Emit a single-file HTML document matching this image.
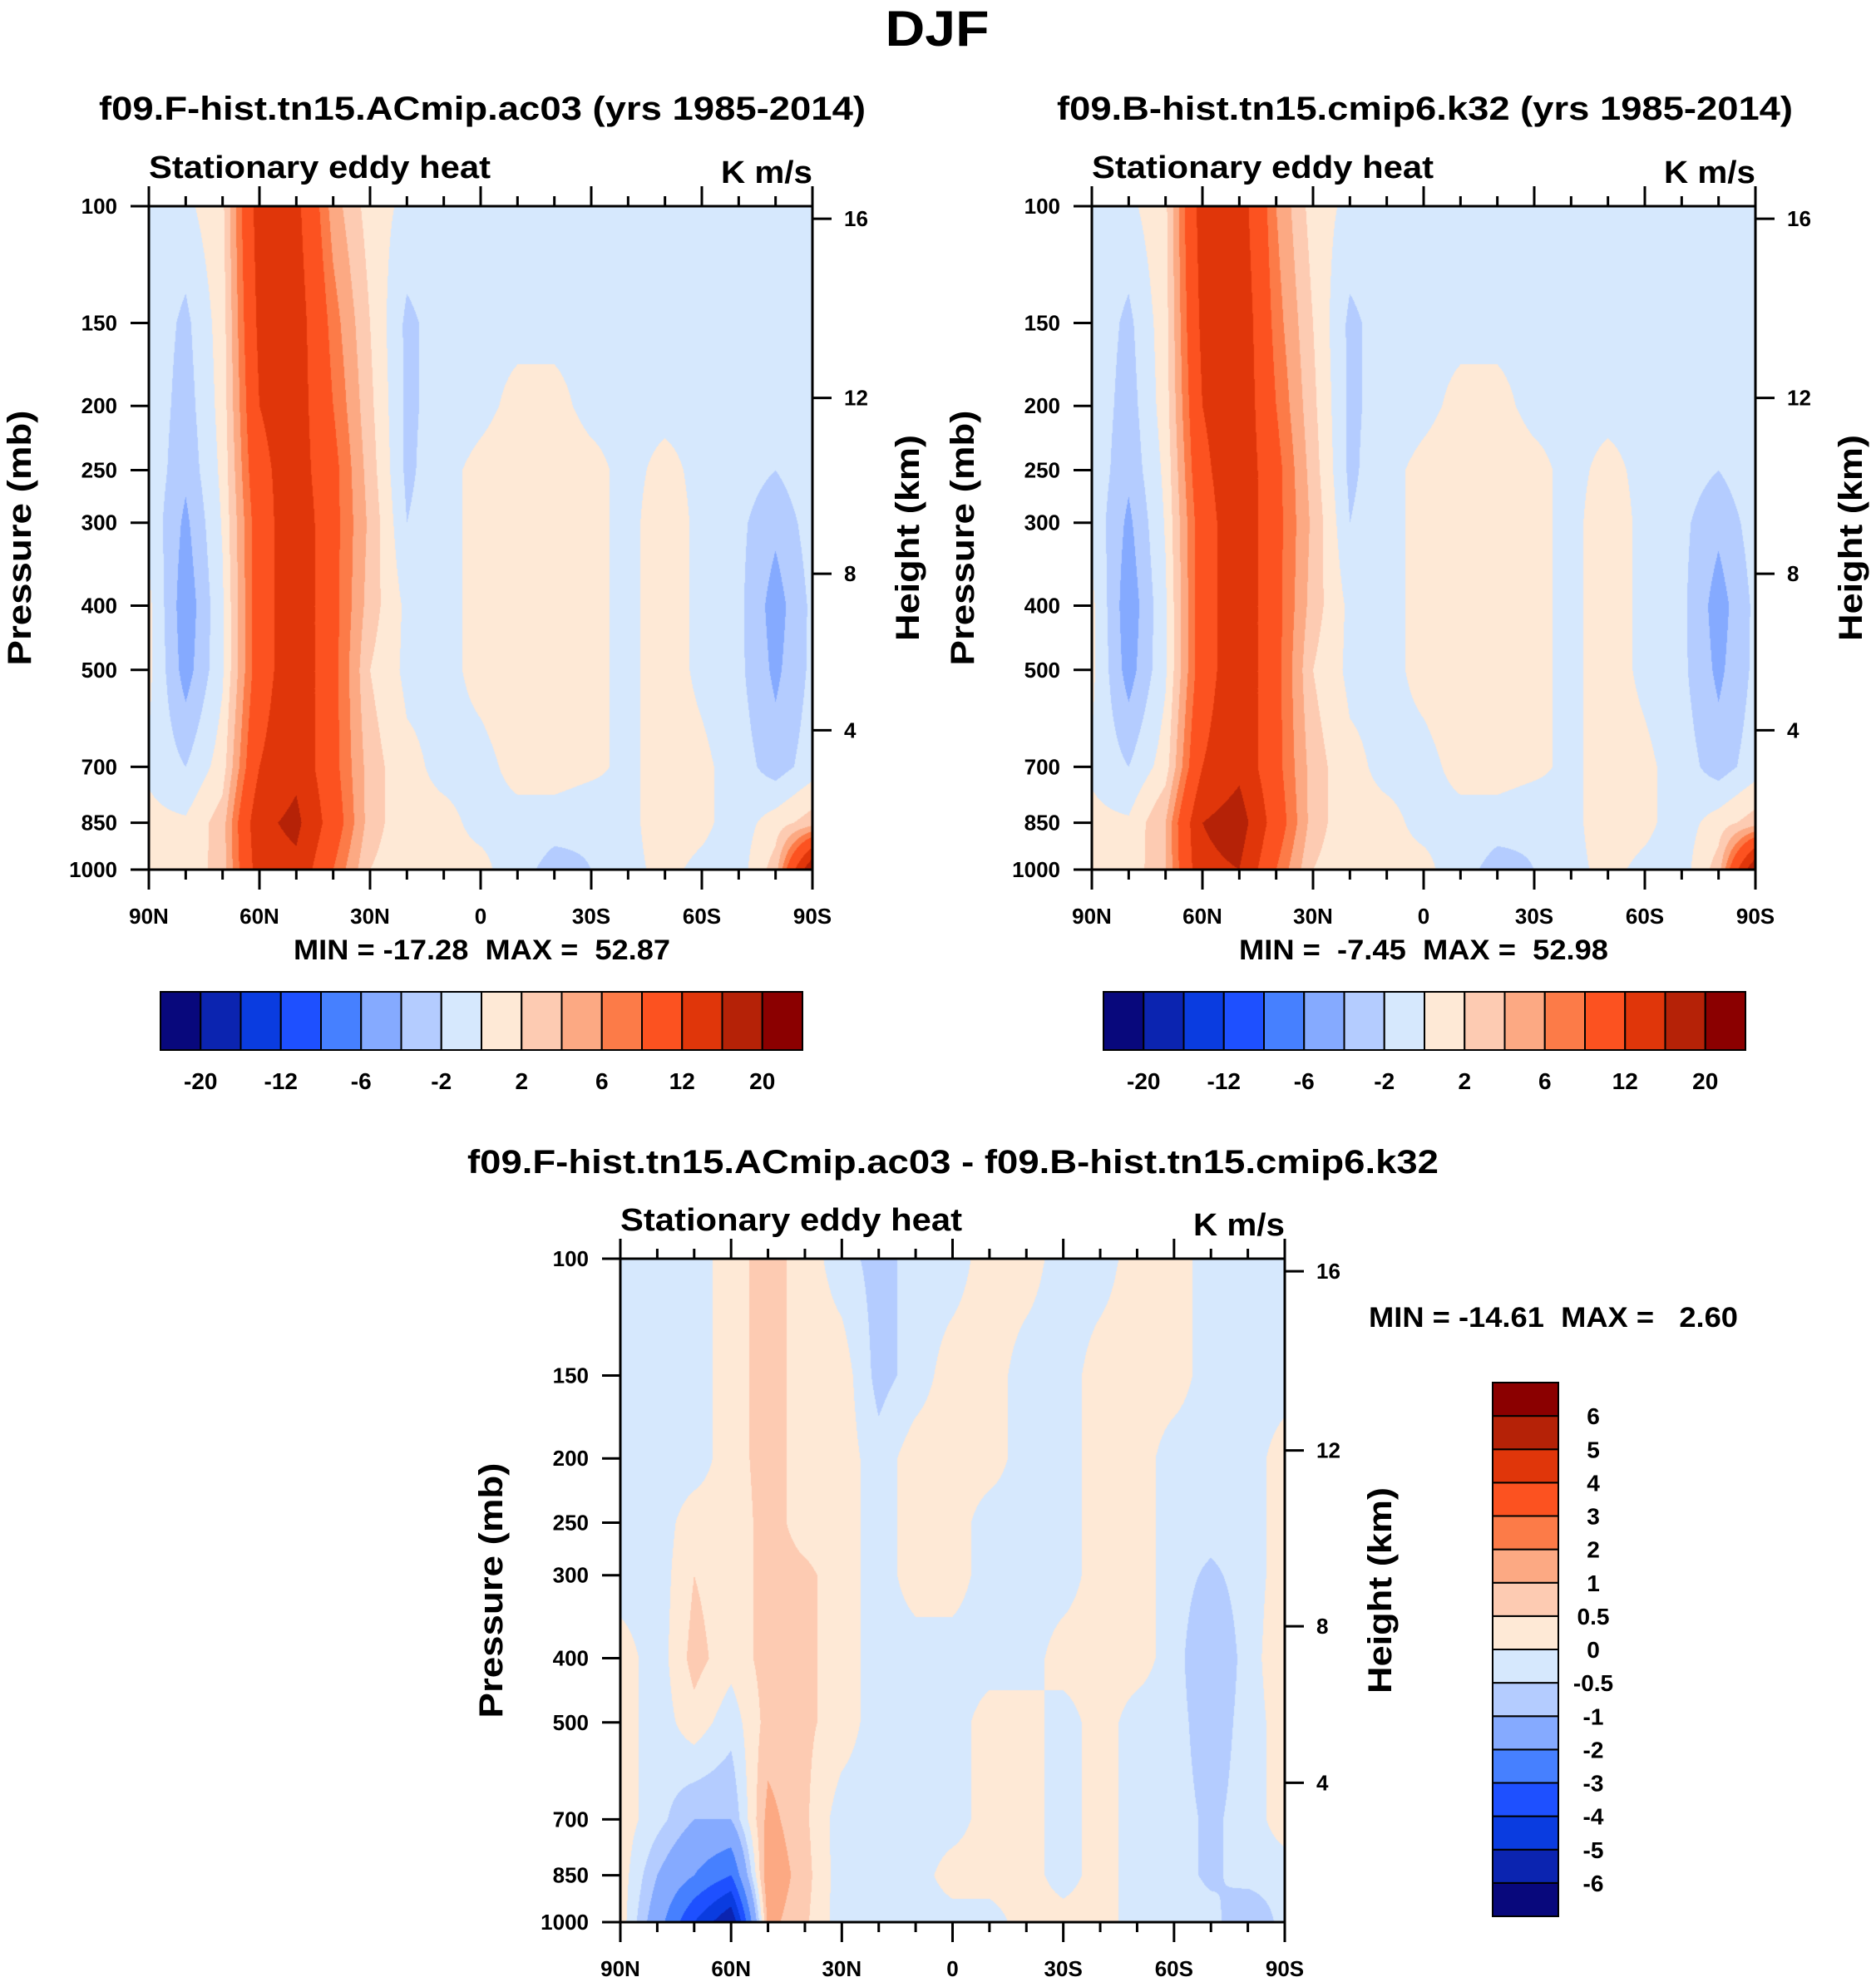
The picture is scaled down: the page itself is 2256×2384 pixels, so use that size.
<!DOCTYPE html>
<html><head><meta charset="utf-8">
<style>
html,body{margin:0;padding:0;background:#fff;}
body{width:2256px;height:2384px;position:relative;overflow:hidden;font-family:"Liberation Sans",sans-serif;}
canvas{position:absolute;}
svg{position:absolute;left:0;top:0;}
</style></head>
<body>
<canvas id="c1" width="798" height="798" style="left:179px;top:248px"></canvas>
<canvas id="c2" width="798" height="798" style="left:1313px;top:248px"></canvas>
<canvas id="c3" width="799" height="798" style="left:746px;top:1514px"></canvas>
<svg id="svg" width="2256" height="2384"></svg>
<script>
// ---- data ----
const lats = [90,80,70,60,50,40,30,20,10,0,-10,-20,-30,-40,-50,-60,-70,-80,-90];
const levels = [100,150,200,250,300,400,500,700,850,1000];
const ctrlField = [
 [-0.5,-0.5,1.5,14,13,5,1,-0.5,-0.5,-0.5,-0.5,-0.5,-0.5,-0.5,-0.5,-0.5,-0.5,-0.5,-0.5],
 [-0.5,-2.5,1,13,14,7,2,-2.5,-1,-0.5,-0.5,-0.5,-0.5,-0.5,-0.5,-0.5,-0.5,-0.5,-0.5],
 [-0.5,-3,0.8,12,14,8,2.5,-2.5,-1,-0.5,0.5,0.5,-0.5,-0.5,-0.5,-0.5,-0.5,-0.5,-0.5],
 [-0.5,-3.5,0.5,11,14,9,3,-2.5,-0.5,0.5,1,1,0.5,-0.5,0.5,-0.5,-1,-2,-0.5],
 [-0.5,-4.5,0.2,10,15,9,3.5,-2,-0.5,0.5,1,1,0.5,-0.5,1,-0.5,-1.5,-3.5,-1],
 [0.5,-5.5,-0.3,10,15,9,3,-0.5,-0.5,0.5,1,1,0.5,-0.5,1,-0.5,-1.5,-5,-1.5],
 [0.5,-5,-0.3,10,15,9,2,-0.5,-0.5,0.5,1,1,0.5,-0.5,1,-0.5,-1.5,-4.5,-1.5],
 [-0.3,-2,1,12,15,9,3,0.5,-0.5,-0.5,0.5,1,0.5,-0.5,1,0.5,-1,-3,-1],
 [0.5,0.3,3,15,17,10,3,0.5,0.5,-0.5,-0.5,-1,-1.5,-0.5,1,0.5,-1,1,3],
 [0.5,0.5,3,14,15,8,2,0.5,0.5,0.5,-1,-3,-2,-0.5,0.5,-0.5,-1,3,20]
];
const expField = [
 [-0.5,-0.5,1.5,14,14,6,1,-0.5,-0.5,-0.5,-0.5,-0.5,-0.5,-0.5,-0.5,-0.5,-0.5,-0.5,-0.5],
 [-0.5,-2.5,1.2,13,15,7,2,-2.5,-1,-0.5,-0.5,-0.5,-0.5,-0.5,-0.5,-0.5,-0.5,-0.5,-0.5],
 [-0.5,-3,1,12,15,8,2.5,-2.5,-1,-0.5,0.5,0.5,-0.5,-0.5,-0.5,-0.5,-0.5,-0.5,-0.5],
 [-0.5,-3.5,0.5,11,15,9,3,-2.5,-0.5,0.5,1,1,0.5,-0.5,0.5,-0.5,-1,-2,-0.5],
 [-0.5,-4.5,0.2,10,15,9,3.5,-2,-0.5,0.5,1,1,0.5,-0.5,1,-0.5,-1.5,-3.5,-1],
 [0.5,-5.5,-0.3,10,15,9,3,-0.5,-0.5,0.5,1,1,0.5,-0.5,1,-0.5,-1.5,-5,-1.5],
 [0.5,-5,-0.3,10,15,9,2,-0.5,-0.5,0.5,1,1,0.5,-0.5,1,-0.5,-1.5,-4.5,-1.5],
 [-0.3,-2,1,12,15,9,3,0.5,-0.5,-0.5,0.5,1,0.5,-0.5,1,0.5,-1,-3,-1],
 [0.5,0.3,4,16,18,10,3,0.5,0.5,-0.5,-0.5,-1,-1.5,-0.5,1,0.5,-1,1,3],
 [0.5,0.5,4,15,16,8,2,0.5,0.5,0.5,-1,-3,-2,-0.5,0.5,-0.5,-1,3,20]
];
const diffField = [
 [-0.3,-0.3,-0.3,0.3,0.7,0.3,-0.3,-0.7,-0.3,-0.3,0.3,0.3,-0.3,-0.3,0.3,0.3,-0.3,-0.3,-0.3],
 [-0.3,-0.3,-0.3,0.3,0.7,0.3,0.3,-0.7,-0.3,0.3,0.3,-0.3,-0.3,0.3,0.3,0.3,-0.3,-0.3,-0.3],
 [-0.3,-0.3,-0.3,0.3,0.7,0.3,0.3,-0.3,0.3,0.3,0.3,-0.3,-0.3,0.3,0.3,-0.3,-0.3,-0.3,0.3],
 [-0.3,-0.3,0.3,0.2,0.7,0.3,0.3,-0.3,0.3,0.3,-0.3,-0.3,-0.3,0.3,0.3,-0.3,-0.3,-0.3,0.3],
 [-0.3,-0.3,0.5,0.2,0.7,0.6,0.3,-0.3,0.3,0.3,-0.3,-0.3,-0.3,0.3,0.3,-0.3,-0.6,-0.3,0.3],
 [0.3,-0.3,0.7,0.2,0.7,0.6,0.3,-0.3,-0.3,-0.3,-0.3,-0.3,0.3,0.3,0.3,-0.3,-1,-0.3,0.5],
 [0.3,-0.3,0.3,-0.3,0.7,0.6,0.3,-0.3,-0.3,-0.3,0.3,0.3,-0.3,0.3,-0.3,-0.3,-0.8,-0.3,0.3],
 [0.3,-0.3,-1,-1,1.2,0.6,-0.3,-0.3,-0.3,-0.3,0.3,0.3,-0.3,0.3,-0.3,-0.3,-0.6,-0.3,0.3],
 [0.3,-1,-2,-3,1.5,0.7,-0.3,-0.3,-0.3,0.3,0.3,0.3,-0.3,0.3,-0.3,-0.3,-0.6,-0.3,-0.3],
 [0.3,-1.5,-4,-6,1.2,0.6,-0.3,-0.3,-0.3,-0.3,-0.3,0.3,0.3,0.3,-0.3,-0.3,-0.3,-1,-0.3]
];
const mainBounds = [-20,-16,-12,-8,-6,-4,-2,0,2,4,6,8,12,16,20];
const mainLabels = ['-20','-12','-6','-2','2','6','12','20'];
const diffBounds = [-6,-5,-4,-3,-2,-1,-0.5,0,0.5,1,2,3,4,5,6];
const diffLabels = ['-6','-5','-4','-3','-2','-1','-0.5','0','0.5','1','2','3','4','5','6'];
const pTicks = [100,150,200,250,300,400,500,700,850,1000];
const hTicks = [16,12,8,4];
const hFrac = [0.019,0.289,0.554,0.79];
const xLabels = ['90N','60N','30N','0','30S','60S','90S'];
const colors = ['#08087c','#0b24b0','#0a3ce0','#1e50ff','#4680ff','#85aaff','#b4ccff','#d6e8fd',
 '#fee9d6','#fdcbb2','#fca983','#fc7b48','#fc5220','#e0360a','#b52207','#8b0000'];

function hex(c){return [parseInt(c.substr(1,2),16),parseInt(c.substr(3,2),16),parseInt(c.substr(5,2),16)];}
const rgb = colors.map(hex);
function level(v,b){let i=0;while(i<b.length&&v>=b[i])i++;return i;}

function drawField(id,field,bounds){
  const cv=document.getElementById(id),ctx=cv.getContext('2d');
  const W=cv.width,H=cv.height,img=ctx.createImageData(W,H),d=img.data;
  const lg=levels.map(p=>Math.log10(p/100));
  for(let y=0;y<H;y++){
    const f=(y+0.5)/H;let r=0;while(r<lg.length-2&&f>lg[r+1])r++;
    const ty=Math.min(1,Math.max(0,(f-lg[r])/(lg[r+1]-lg[r])));
    for(let x=0;x<W;x++){
      const gx=(x+0.5)/W*(lats.length-1);let c=Math.min(lats.length-2,Math.floor(gx));const tx=gx-c;
      const v=(field[r][c]*(1-tx)+field[r][c+1]*tx)*(1-ty)+(field[r+1][c]*(1-tx)+field[r+1][c+1]*tx)*ty;
      const k=rgb[level(v,bounds)];const o=(y*W+x)*4;
      d[o]=k[0];d[o+1]=k[1];d[o+2]=k[2];d[o+3]=255;
    }
  }
  ctx.putImageData(img,0,0);
}
drawField('c1',ctrlField,mainBounds);
drawField('c2',expField,mainBounds);
drawField('c3',diffField,diffBounds);

const svg=document.getElementById('svg');const NS='http://www.w3.org/2000/svg';
function mk(tag,attrs){const e=document.createElementNS(NS,tag);for(const k in attrs)e.setAttribute(k,attrs[k]);svg.appendChild(e);return e;}
function txt(s,x,y,size,anchor,len,rot){
  const a={x:x,y:y,'font-size':size,'font-weight':'bold','text-anchor':anchor,'font-family':'"Liberation Sans",sans-serif',fill:'#000',style:'white-space:pre'};
  if(len){a.textLength=len;a.lengthAdjust='spacingAndGlyphs';}
  if(rot)a.transform='rotate(-90 '+x+' '+y+')';
  const e=mk('text',a);e.textContent=s;return e;
}

let t=txt('DJF',1127,55,60,'middle',125);



function panel(L,T,W,H,title,tx0,tx1,mm,mmx0,mmx1,tag){
  let e=txt(title,(tx0+tx1)/2,144+(tag==='diff'?1267:0),40,'middle',tx1-tx0);
  
  
  e=txt('Stationary eddy heat',L,T-34,38,'start',411);
  
  
  e=txt('K m/s',L+W,T-28,38,'end',110);
  
  
  e=mk('rect',{x:L,y:T,width:W,height:H,fill:'none',stroke:'#000','stroke-width':3});
  
  
  pTicks.forEach(p=>{
    const y=T+H*Math.log10(p/100);
    const l=mk('line',{x1:L-22,x2:L,y1:y,y2:y,stroke:'#000','stroke-width':3});
    
    
    const s=txt(String(p),L-38,y+9,26,'end');
    
    
  });
  hTicks.forEach((h,i)=>{
    const y=T+H*hFrac[i];
    const l=mk('line',{x1:L+W,x2:L+W+23,y1:y,y2:y,stroke:'#000','stroke-width':3});
    
    
    const s=txt(String(h),L+W+38,y+9,26,'start');
    
    
  });
  for(let i=0;i<=18;i++){
    const x=L+W*i/18,maj=i%3===0,len=maj?24:12;
    const a=mk('line',{x1:x,x2:x,y1:T-len,y2:T,stroke:'#000','stroke-width':3});
    
    
    const b=mk('line',{x1:x,x2:x,y1:T+H,y2:T+H+len,stroke:'#000','stroke-width':3});
    
    
  }
  xLabels.forEach((s,i)=>{
    const e2=txt(s,L+W*i/6,T+H+65,26,'middle');
    
    
  });
  e=txt('Pressure (mb)',L-142,T+H/2,40,'middle',307,true);
  
  
  e=txt('Height (km)',L+W+128,T+H/2,40,'middle',248,true);
  
  
  if(mm){
    e=txt(mm,(mmx0+mmx1)/2,T+H+108,34,'middle',mmx1-mmx0);
    
    
  }
}
panel(179,248,798,798,'f09.F-hist.tn15.ACmip.ac03 (yrs 1985-2014)',119,1041,'MIN = -17.28  MAX =  52.87',353,806,'control');
panel(1313,248,798,798,'f09.B-hist.tn15.cmip6.k32 (yrs 1985-2014)',1271,2156,'MIN =  -7.45  MAX =  52.98',1490,1934,'experiment');
panel(746,1514,799,798,'f09.F-hist.tn15.ACmip.ac03 - f09.B-hist.tn15.cmip6.k32',562,1730,null,0,0,'diff');
t=txt('MIN = -14.61  MAX =   2.60',1868,1596,34,'middle',444);



function hbar(L,R,T,B,tag){
  const w=(R-L)/16;
  colors.forEach((c,i)=>{
    const r=mk('rect',{x:L+i*w,y:T,width:w,height:B-T,fill:c,stroke:'#000','stroke-width':2});
    
    
  });
  mainLabels.forEach((s,j)=>{
    const e=txt(s,L+(2*j+1)*w,B+47,28,'middle');
    
    
  });
}
hbar(193,965,1193,1263,'control');
hbar(1327,2099,1193,1263,'experiment');

(function(){
  const L=1795,R=1874,T=1663,B=2305,h=(B-T)/16;
  colors.forEach((c,i)=>{
    const r=mk('rect',{x:L,y:B-(i+1)*h,width:R-L,height:h,fill:c,stroke:'#000','stroke-width':2});
    
    
  });
  diffLabels.forEach((s,j)=>{
    const e=txt(s,1916,B-(j+1)*h+10,28,'middle');
    
    
  });
})();
</script>
</body></html>
